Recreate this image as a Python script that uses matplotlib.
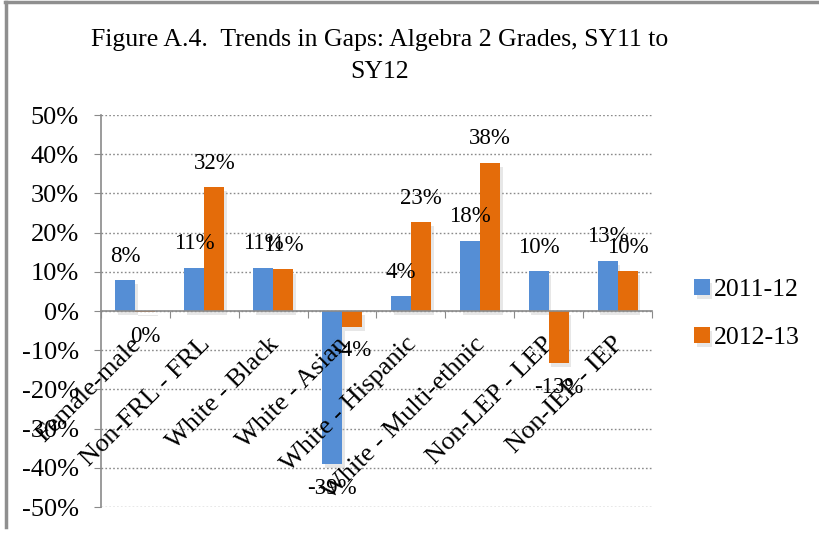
import matplotlib
matplotlib.use("Agg")
import matplotlib.pyplot as plt
import matplotlib.patheffects as pe
from matplotlib.transforms import ScaledTranslation
from matplotlib.lines import Line2D
import numpy as np

categories = ["Female-male", "Non-FRL - FRL", "White - Black", "White - Asian",
              "White - Hispanic", "White - Multi-ethnic", "Non-LEP - LEP", "Non-IEP - IEP"]
series_names = ["2011-12", "2012-13"]
vals_2011 = [7.9, 11.0, 11.0, -39.1, 3.8, 17.9, 10.2, 12.8]
vals_2012 = [-0.3, 31.6, 10.6, -4.0, 22.7, 37.8, -13.3, 10.2]
yticks = [-50, -40, -30, -20, -10, 0, 10, 20, 30, 40, 50]

colors = ["#558ED5", "#E46C0A"]
FONT = "Liberation Serif"
plt.rcParams["font.family"] = [FONT, "DejaVu Serif"]

fig = plt.figure(figsize=(8.2, 5.35), dpi=100)
ax = fig.add_axes([101/820, 1-507/535, (652-101)/820, (507-115)/535])

x = np.arange(len(categories))
w = 0.29
shadow = [pe.SimplePatchShadow(offset=(2, -3), shadow_rgbFace="#bbbbbb", alpha=0.35), pe.Normal()]
for k, (vals, off) in enumerate([(vals_2011, -w/2), (vals_2012, w/2)]):
    bars = ax.bar(x + off, vals, width=w, color=colors[k], label=series_names[k], zorder=3)
    for b in bars:
        b.set_path_effects(shadow)
    for xi, v in zip(x + off, vals):
        r = round(v)
        s = "0%" if r == 0 else f"{r:d}%"
        dy = 24 if v >= 0 else -24
        ax.annotate(s, (xi, v), xytext=(0, dy), textcoords="offset pixels",
                    ha="center", va="center", fontsize=16.5, zorder=6)

ax.set_xlim(-0.5, len(categories) - 0.5)
ax.set_ylim(-50, 50)
ax.set_yticks(yticks)
ax.set_yticklabels([f"{t}%" for t in yticks], fontsize=19)
for t in yticks:
    ax.axhline(t, color="#8a8a8a", lw=1, ls=(0, (1.2, 1.6)), zorder=1)

for s in ["top", "right"]:
    ax.spines[s].set_visible(False)
ax.spines["left"].set_color("#8a8a8a")
ax.spines["left"].set_linewidth(1.2)
ax.spines["bottom"].set_position(("data", 0))
ax.spines["bottom"].set_color("#8a8a8a")
ax.spines["bottom"].set_linewidth(1.2)
ax.spines["bottom"].set_zorder(4)
ax.tick_params(axis="y", direction="out", length=5, color="#8a8a8a", pad=11)
ax.set_xticks(np.arange(-0.5, len(categories), 1.0))
ax.set_xticklabels([])
ax.tick_params(axis="x", direction="out", length=5, color="#8a8a8a")

trans = ax.transData + ScaledTranslation(2/100, -30/100, fig.dpi_scale_trans)
for i, c in enumerate(categories):
    ax.text(i, 0, c, transform=trans, rotation=45, rotation_mode="anchor",
            ha="right", va="center", fontsize=19, zorder=5)

fig.text(380/820, 1-40/535, "Figure A.4.  Trends in Gaps: Algebra 2 Grades, SY11 to",
         ha="center", va="center", fontsize=18.5)
fig.text(380/820, 1-72/535, "SY12", ha="center", va="center", fontsize=18.5)

leg = ax.legend(loc="center left", bbox_to_anchor=(671/820, 1-314/535),
                bbox_transform=fig.transFigure, frameon=False, fontsize=18.5,
                handlelength=0.6, handleheight=0.6, handletextpad=0.15, labelspacing=1.0)

fig.add_artist(Line2D([6/820, 6/820], [1-2/535, 1-527/535], color="#8f8f8f", lw=2.5, transform=fig.transFigure))
fig.add_artist(Line2D([5/820, 1], [1-2/535, 1-2/535], color="#8f8f8f", lw=2.5, transform=fig.transFigure))

fig.savefig("out.png", dpi=100)
